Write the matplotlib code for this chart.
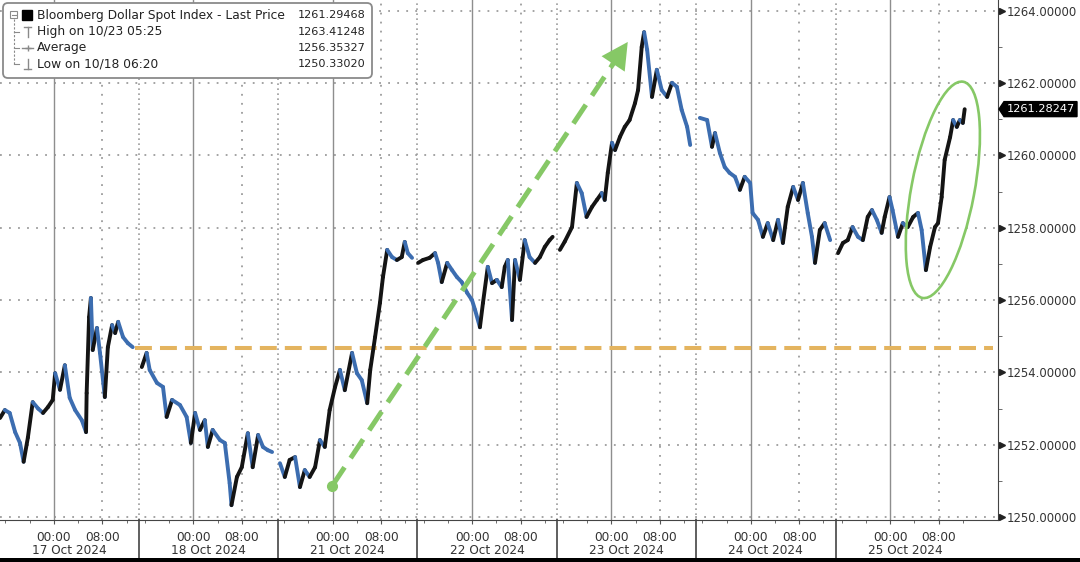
#Bloomberg Dollar Spot Index - intraday chart 17-25 Oct 2024
import matplotlib
matplotlib.use("Agg")
import matplotlib.pyplot as plt
import matplotlib.transforms as mtransforms
import numpy as np
from matplotlib.collections import LineCollection
from matplotlib.patches import FancyBboxPatch, Ellipse, Polygon, Rectangle

plt.rcParams['font.family'] = ['DejaVu Sans']

#1. Data (x = trading hours from 17 Oct 00:00, 23 trading hours per day on the axis)
day_labels = ['17 Oct 2024', '18 Oct 2024', '21 Oct 2024', '22 Oct 2024',
              '23 Oct 2024', '24 Oct 2024', '25 Oct 2024']
hours_per_day = 23
session_start = -9      # each session starts 9 h before 00:00

t_17 = [-8.9, -8.1, -7.3, -6.4, -5.6, -5.0, -4.3, -3.5, -2.6, -1.8, -1.0, -0.2, 0.2, 1.0, 1.8, 2.6, 3.5, 4.6, 5.3,
        5.4, 5.8, 6.1, 6.4, 7.1, 7.6, 8.4, 8.9, 9.6, 10.1, 10.6, 11.4, 12.2, 13.0]
v_17 = [1252.74, 1252.96, 1252.88, 1252.35, 1252.05, 1251.53, 1252.20, 1253.18, 1253.00, 1252.88, 1253.04, 1253.24,
        1253.98, 1253.52, 1254.20, 1253.30, 1252.96, 1252.68, 1252.35,
        1253.43, 1255.53, 1256.06, 1254.62, 1255.23, 1254.54, 1253.32, 1254.70, 1255.31, 1255.09, 1255.40, 1254.98,
        1254.81, 1254.70]

t_18 = [14.5, 15.3, 15.8, 17.0, 18.0, 18.6, 19.5, 20.8, 21.9, 22.6, 23.3, 24.1, 24.9, 25.4, 26.2, 27.4, 28.2, 29.0,
        29.3, 30.2, 31.0, 32.0, 32.8, 33.7, 34.5, 35.3, 36.0]
v_18 = [1254.15, 1254.54, 1254.07, 1253.71, 1253.60, 1252.77, 1253.24, 1253.10, 1252.77, 1252.05, 1252.88, 1252.41,
        1252.68, 1251.94, 1252.41, 1252.13, 1252.05, 1250.94, 1250.33, 1251.11, 1251.38, 1252.32, 1251.38, 1252.27,
        1251.94, 1251.85, 1251.80]

t_21 = [37.3, 38.1, 38.9, 39.8, 40.6, 41.4, 42.2, 43.1, 43.9, 44.7, 45.5, 46.4, 47.2, 48.0, 49.2, 50.0, 50.8, 51.7,
        52.2, 53.0, 53.8, 54.3, 55.0, 55.8, 56.6, 57.4, 57.9, 58.4, 59.1]
v_21 = [1251.49, 1251.11, 1251.58, 1251.66, 1250.83, 1251.30, 1251.11, 1251.38, 1252.13, 1251.94, 1252.96, 1253.60,
        1254.07, 1253.51, 1254.54, 1253.98, 1253.79, 1253.15, 1254.07, 1254.98, 1255.92, 1256.64, 1257.39, 1257.19,
        1257.11, 1257.19, 1257.61, 1257.30, 1257.17]

t_22 = [60.1, 60.9, 62.0, 62.9, 63.4, 64.0, 64.9, 65.7, 66.5, 67.3, 68.2, 69.0, 69.5, 70.3, 70.8, 71.6, 72.3, 73.1,
        73.9, 74.4, 74.9, 75.6, 76.1, 76.9, 77.7, 78.5, 79.4, 80.2, 81.0, 81.8, 82.3]
v_22 = [1257.03, 1257.11, 1257.17, 1257.30, 1257.03, 1256.50, 1257.03, 1256.83, 1256.64, 1256.50, 1256.20, 1256.00,
        1255.73, 1255.25, 1255.92, 1256.92, 1256.47, 1256.56, 1256.36, 1256.92, 1257.11, 1255.45, 1257.11, 1256.56,
        1257.66, 1257.19, 1257.03, 1257.19, 1257.47, 1257.66, 1257.75]

t_23 = [83.5, 84.3, 85.5, 86.3, 87.1, 87.9, 88.8, 89.6, 90.4, 90.9, 91.4, 92.1, 92.6, 93.4, 94.2, 95.0, 95.9, 96.4,
        97.0, 97.4, 97.9, 98.7, 99.5, 100.3, 101.2, 102.0, 102.8, 103.6, 104.5, 105.0]
v_23 = [1257.39, 1257.62, 1258.02, 1259.24, 1258.96, 1258.30, 1258.58, 1258.77, 1258.96, 1258.77, 1259.52, 1260.35,
        1260.15, 1260.51, 1260.79, 1260.98, 1261.45, 1261.81, 1263.00, 1263.41, 1262.92, 1261.62, 1262.37, 1261.81,
        1261.62, 1262.01, 1261.90, 1261.26, 1260.79, 1260.29]

t_24 = [106.6, 107.8, 108.6, 109.1, 109.9, 110.7, 111.5, 112.4, 113.2, 114.0, 114.9, 115.3, 116.2, 117.0, 117.8,
        118.7, 119.5, 120.3, 121.1, 122.0, 122.8, 123.6, 124.4, 125.1, 125.6, 126.4, 127.2, 128.1]
v_24 = [1261.04, 1260.98, 1260.24, 1260.62, 1260.07, 1259.68, 1259.52, 1259.41, 1259.05, 1259.41, 1259.24, 1258.41,
        1258.22, 1257.75, 1258.13, 1257.66, 1258.22, 1257.58, 1258.58, 1259.13, 1258.77, 1259.24, 1258.41, 1257.75,
        1257.03, 1257.94, 1258.13, 1257.66]

t_25 = [129.4, 130.2, 131.0, 131.8, 132.7, 133.5, 134.3, 135.0, 135.8, 136.6, 137.1, 137.9, 138.4, 139.3, 140.1,
        140.9, 141.8, 142.6, 143.2, 143.9, 144.6, 145.4, 145.9, 146.5, 147.0, 147.9, 148.4, 149.0, 149.5, 150.0, 150.3]
v_25 = [1257.30, 1257.58, 1257.66, 1258.02, 1257.75, 1257.66, 1258.30, 1258.49, 1258.22, 1257.86, 1258.30, 1258.85,
        1258.49, 1257.75, 1258.13, 1258.02, 1258.30, 1258.41, 1257.94, 1256.83, 1257.47, 1258.02, 1258.13, 1258.85,
        1259.88, 1260.51, 1260.98, 1260.79, 1260.98, 1260.90, 1261.28]

sessions = [(t_17, v_17), (t_18, v_18), (t_21, v_21), (t_22, v_22), (t_23, v_23), (t_24, v_24), (t_25, v_25)]

legend_rows = ['Bloomberg Dollar Spot Index - Last Price', 'High on 10/23 05:25', 'Average', 'Low on 10/18 06:20']
legend_vals = ['1261.29468', '1263.41248', '1256.35327', '1250.33020']
last_price = 1261.28247

level_line = 1254.68          # orange dashed level
level_from = 13.4
arrow_from = (45.9, 1250.86)  # green arrow
arrow_base = (92.5, 1262.59)
arrow_tip = (94.7, 1263.14)
ellipse_at = (146.7, 1259.05)

#2. Figure
W, H = 1080, 562
fig = plt.figure(figsize=(W / 100, H / 100), dpi=100)
fig.patch.set_facecolor('white')
ax = fig.add_axes([0, 42 / H, 998 / W, 520 / H])
ax.set_xlim(-8.9, 155.8)
ax.set_ylim(1249.92, 1264.30)

UP = '#141414'
DOWN = '#3c6db0'
GRID = '#9c9c9c'
GREEN = '#86c866'
ORANGE = '#e4b45f'
TXT = '#333333'

#3. Price line: rising segments dark, falling segments blue
for t, v in sessions:
    pts = np.column_stack([t, v])
    segs = np.stack([pts[:-1], pts[1:]], axis=1)
    cols = [UP if b >= a else DOWN for a, b in zip(v[:-1], v[1:])]
    ax.add_collection(LineCollection(segs, colors=cols, linewidths=2.8,
                                     capstyle='round', joinstyle='round', zorder=4))

#4. Grid
for y in range(1250, 1265, 2):
    ax.axhline(y, color=GRID, lw=1.3, ls=(0, (1, 4)), zorder=1)
for k in range(len(day_labels)):
    d0 = k * hours_per_day
    ax.axvline(d0, color='#8e8e8e', lw=1.0, zorder=1)
    ax.axvline(d0 + 8, color=GRID, lw=1.3, ls=(0, (1, 4)), zorder=1)
    ax.axvline(d0 + session_start, color=GRID, lw=1.2, ls=(0, (1, 2)), zorder=1)

#5. Axes / ticks
for s in ['top', 'left']:
    ax.spines[s].set_visible(False)
ax.spines['right'].set_color('#444444')
ax.spines['bottom'].set_color('#444444')

major_x = []
major_lbl = []
minor_x = []
for k in range(len(day_labels)):
    d0 = k * hours_per_day
    major_x += [d0, d0 + 8]
    major_lbl += ['00:00', '08:00']
    minor_x += [d0 - 8, d0 - 4, d0 + 4, d0 + 12]
ax.set_xticks(major_x)
ax.set_xticklabels(major_lbl)
ax.set_xticks(minor_x, minor=True)
ax.tick_params(axis='x', which='major', length=3, color='#555555', labelsize=8.7, pad=5, labelcolor=TXT)
ax.tick_params(axis='x', which='minor', length=2.5, color='#555555')

xtr = ax.get_xaxis_transform()
for k, lbl in enumerate(day_labels):
    d0 = k * hours_per_day
    ax.text(d0 + 2.5, -31 / 520, lbl, transform=xtr, ha='center', va='center', fontsize=8.7, color=TXT)
    ax.plot([d0 + session_start] * 2, [0, -0.075], transform=xtr, clip_on=False, color='#444444', lw=1.2)

ax.yaxis.tick_right()
ax.set_yticks(range(1250, 1265, 2))
ax.set_yticklabels([f'{y:.5f}' for y in range(1250, 1265, 2)])
ax.set_yticks(range(1251, 1265, 2), minor=True)
ax.tick_params(axis='y', which='major', length=0, pad=6.5, labelsize=8.4, labelcolor=TXT)
ax.tick_params(axis='y', which='minor', length=3, color='#555555')
ytr = ax.get_yaxis_transform()
ax.plot([1.004] * 8, list(range(1250, 1265, 2)), ls='', marker='>', ms=5, color='#222222',
        transform=ytr, clip_on=False, zorder=6)

#6. Annotations
ax.plot([level_from, 155.0], [level_line, level_line], color=ORANGE, lw=2.9, ls=(0, (4.2, 2.0)), zorder=3)

ax.plot([arrow_from[0], arrow_base[0]], [arrow_from[1], arrow_base[1]], color=GREEN, lw=3.6,
        ls=(0, (4.5, 2.2)), zorder=5)
ax.plot(*arrow_from, marker='o', ms=7, color=GREEN, zorder=5)
ax.annotate('', xy=arrow_tip, xytext=arrow_from,
            arrowprops=dict(arrowstyle='-|>,head_length=0.95,head_width=0.5', mutation_scale=20,
                            color=GREEN, lw=0, shrinkA=0, shrinkB=0), zorder=5)

ell_tr = fig.dpi_scale_trans + mtransforms.ScaledTranslation(ellipse_at[0], ellipse_at[1], ax.transData)
ax.add_artist(Ellipse((0, 0), width=0.63, height=2.2, angle=-10.7, fill=False, ec=GREEN, lw=1.9,
                      transform=ell_tr, clip_on=False, zorder=5))

# last price tag on the right axis
yc = ax.transData.transform((0, last_price))[1] / 100
tag = [(9.99, yc), (10.04, yc - 0.075), (10.77, yc - 0.075), (10.77, yc + 0.075), (10.04, yc + 0.075)]
fig.add_artist(Polygon(tag, closed=True, fc='black', ec='black', transform=fig.dpi_scale_trans))
fig.text(10.07, yc, f'{last_price:.5f}', transform=fig.dpi_scale_trans, va='center', ha='left',
         fontsize=8.2, color='white')

#7. Legend box
def P(x, y):
    return (x / 100, (H - y) / 100)

dst = fig.dpi_scale_trans
fig.add_artist(FancyBboxPatch(P(3, 78), 3.69, 0.75, boxstyle='round,pad=0,rounding_size=0.05',
                              fc='white', ec='#8a8a8a', lw=1.3, transform=dst, zorder=10))
icon_c = '#8a8a8a'
fig.add_artist(Rectangle(P(10, 18), 0.07, 0.07, fill=False, ec=icon_c, lw=0.8, transform=dst, zorder=11))
fig.add_artist(Rectangle(P(22, 20), 0.10, 0.10, fc='black', ec='black', transform=dst, zorder=11))
fig.lines.append(plt.Line2D(*zip(P(11.5, 14.5), P(15.5, 14.5)), color=icon_c, lw=0.8, transform=dst, zorder=11))
fig.lines.append(plt.Line2D(*zip(P(13.5, 19), P(13.5, 64)), color=icon_c, lw=0.8, ls=(0, (2, 1.5)),
                            transform=dst, zorder=11))
for yy in [32, 48, 64]:
    fig.lines.append(plt.Line2D(*zip(P(13.5, yy), P(19, yy)), color=icon_c, lw=0.8, transform=dst, zorder=11))
# high / average / low glyphs
fig.lines.append(plt.Line2D(*zip(P(24, 27), P(31, 27)), color=icon_c, lw=1, transform=dst, zorder=11))
fig.lines.append(plt.Line2D(*zip(P(27.5, 27), P(27.5, 37)), color=icon_c, lw=1, transform=dst, zorder=11))
fig.lines.append(plt.Line2D(*zip(P(22, 48), P(33, 48)), color=icon_c, lw=1, transform=dst, zorder=11))
fig.lines.append(plt.Line2D([P(27.5, 48)[0]], [P(27.5, 48)[1]], marker='+', ms=5, color=icon_c,
                            transform=dst, zorder=11))
fig.lines.append(plt.Line2D(*zip(P(27.5, 59), P(27.5, 69)), color=icon_c, lw=1, transform=dst, zorder=11))
fig.lines.append(plt.Line2D(*zip(P(24, 69), P(31, 69)), color=icon_c, lw=1, transform=dst, zorder=11))

for i, (lbl, val) in enumerate(zip(legend_rows, legend_vals)):
    yy = [15, 32, 48, 64][i]
    fig.text(*P(37, yy), lbl, transform=dst, va='center', ha='left', fontsize=8.8, color='#222222', zorder=12)
    fig.text(*P(365, yy), val, transform=dst, va='center', ha='right', fontsize=8.1, color='#222222', zorder=12)

# dark strip at the bottom of the screenshot
fig.add_artist(Rectangle((0, 0), 1, 4.5 / H, fc='black', ec='none', transform=fig.transFigure, zorder=20))

fig.savefig('out.png', dpi=100)
